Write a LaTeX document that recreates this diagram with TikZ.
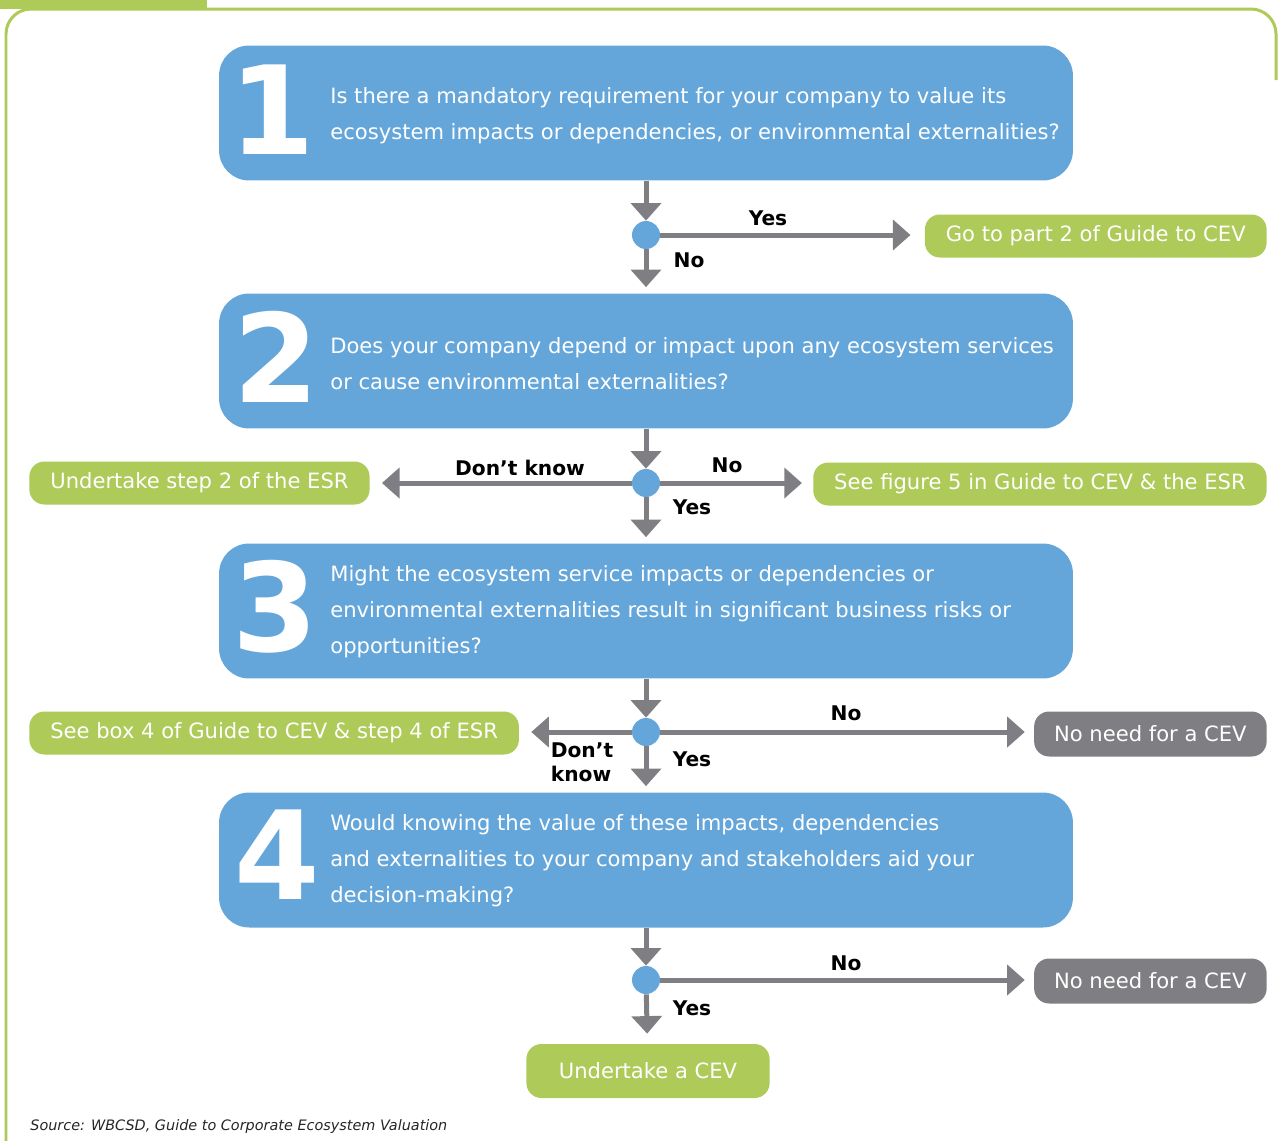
\documentclass[tikz,border=0pt]{standalone}
\usepackage{fontspec}
\setmainfont{DejaVu Sans}
\usetikzlibrary{arrows.meta}
\definecolor{cevblue}{HTML}{64A6DA}
\definecolor{cevgreen}{HTML}{AECA58}
\definecolor{cevgrey}{HTML}{7F7F83}
\begin{document}
\begin{tikzpicture}[x=0.02cm,y=-0.02cm,>={Triangle[length=10pt,width=17pt]},
  font=\fontsize{12}{20.4}\selectfont,
  question/.style={fill=cevblue,rounded corners=0.6cm,minimum width=17.08cm,minimum height=2.7cm},
  bignum/.style={text=white,font=\fontsize{70}{70}\selectfont\bfseries},
  qtext/.style={text=white,anchor=west,align=left,inner sep=0pt},
  hub/.style={circle,fill=cevblue,minimum size=0.56cm,inner sep=0pt},
  action/.style={fill=cevgreen,text=white,rounded corners=0.3cm,inner xsep=0.42cm,minimum height=0.86cm},
  stopbox/.style={fill=cevgrey,text=white,rounded corners=0.3cm,inner xsep=0.4cm,minimum height=0.9cm},
  flow/.style={draw=cevgrey,line width=0.1cm,->},
  answer/.style={font=\fontsize{11.5}{13.6}\selectfont\bfseries,inner sep=0pt}]
\useasboundingbox (0,0) rectangle (1278,1140);
\fill[cevgreen] (0,-5) rectangle (207,9);
\draw[cevgreen,line width=0.06cm,rounded corners=0.5cm] (6,1160) -- (6,9) -- (1276,9) -- (1276,80);
\node[question] (box1) at (646,113) {};
\node[question] (box2) at (646,361) {};
\node[question] (box3) at (646,611) {};
\node[question] (box4) at (646,860) {};
\node[bignum] (n1) at (272,110) {1};
\node[bignum] (n2) at (276,357) {2};
\node[bignum] (n3) at (275,607) {3};
\node[bignum] (n4) at (277,855) {4};
\node[qtext] (q1) at (330,116) {Is there a mandatory requirement for your company to value its\\ecosystem impacts or dependencies, or environmental externalities?};
\node[qtext] (q2) at (330,364) {Does your company depend or impact upon any ecosystem services\\or cause environmental externalities?};
\node[qtext] (q3) at (330,612) {Might the ecosystem service impacts or dependencies or\\environmental externalities result in significant business risks or\\opportunities?};
\node[qtext] (q4) at (330,861) {Would knowing the value of these impacts, dependencies\\and externalities to your company and stakeholders aid your\\decision-making?};
\node[hub] (hub1) at (646,235) {};
\node[hub] (hub2) at (646,483) {};
\node[hub] (hub3) at (646,732) {};
\node[hub] (hub4) at (646,980) {};
\node[action,anchor=east] (part2) at (1267,236) {Go to part 2 of Guide to CEV};
\node[action,anchor=west] (esr2) at (29,483) {Undertake step 2 of the ESR};
\node[action,anchor=east] (fig5) at (1267,484) {See figure 5 in Guide to CEV \& the ESR};
\node[action,anchor=west] (esr4) at (29,733) {See box 4 of Guide to CEV \& step 4 of ESR};
\node[stopbox,anchor=east] (none3) at (1267,734) {No need for a CEV};
\node[stopbox,anchor=east] (none4) at (1267,981) {No need for a CEV};
\node[action,minimum height=1.08cm,inner xsep=0.65cm] (cev) at (648,1071) {Undertake a CEV};
\draw[flow] (box1) -- (hub1);
\draw[flow,shorten >=0.12cm] (hub1) -- (box2);
\draw[flow,shorten >=0.28cm] (hub1) -- (hub1 -| part2.west);
\draw[flow] (box2) -- (hub2);
\draw[flow,shorten >=0.12cm] (hub2) -- (box3);
\draw[flow,shorten >=0.24cm] (hub2) -- (hub2 -| esr2.east);
\draw[flow,shorten >=0.22cm] (hub2) -- (hub2 -| fig5.west);
\draw[flow] (box3) -- (hub3);
\draw[flow,shorten >=0.12cm] (hub3) -- (box4);
\draw[flow,shorten >=0.24cm] (hub3) -- (hub3 -| esr4.east);
\draw[flow,shorten >=0.18cm] (hub3) -- (hub3 -| none3.west);
\draw[flow] (box4) -- (hub4);
\draw[flow,shorten >=0.2cm] (hub4) -- (cev);
\draw[flow,shorten >=0.18cm] (hub4) -- (hub4 -| none4.west);
\node[answer] (yes1) at (768,218) {Yes};
\node[answer] (no1) at (689,260) {No};
\node[answer] (dk2) at (520,468) {Don’t know};
\node[answer] (no2) at (727,465) {No};
\node[answer] (yes2) at (692,507) {Yes};
\node[answer] (no3) at (846,713) {No};
\node[answer,align=left] (dk3) at (582,762) {Don’t\\know};
\node[answer] (yes3) at (692,759) {Yes};
\node[answer] (no4) at (846,963) {No};
\node[answer] (yes4) at (692,1008) {Yes};
\node[anchor=west,inner sep=0pt,text=black!85,font=\fontsize{8.2}{10}\selectfont\itshape] (src) at (30,1127) {Source: WBCSD, Guide to Corporate Ecosystem Valuation};
\end{tikzpicture}
\end{document}
